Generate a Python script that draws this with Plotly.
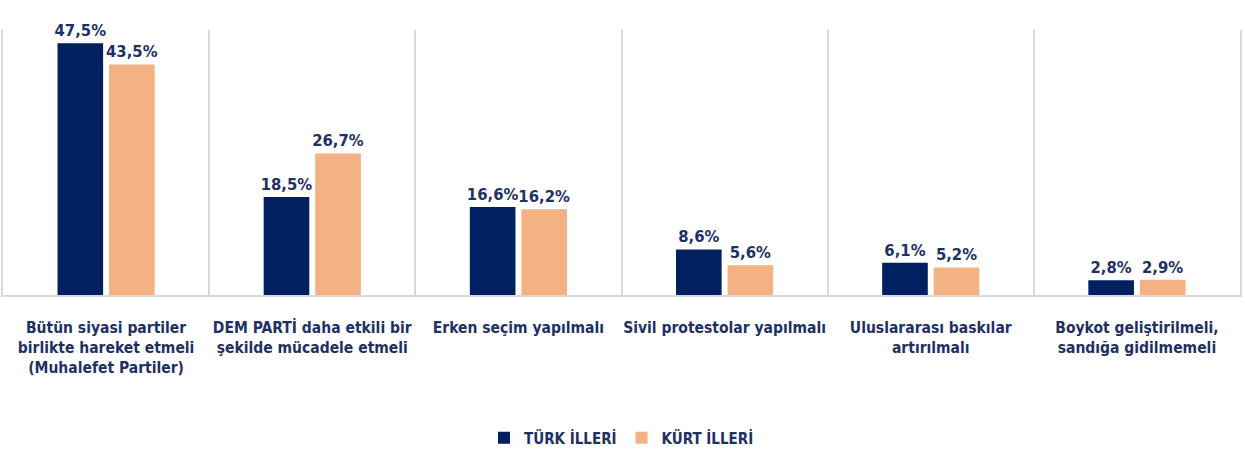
import plotly.graph_objects as go

categories = [
    "Bütün siyasi partiler<br>birlikte hareket etmeli<br>(Muhalefet Partiler)",
    "DEM PARTİ daha etkili bir<br>şekilde mücadele etmeli",
    "Erken seçim yapılmalı",
    "Sivil protestolar yapılmalı",
    "Uluslararası baskılar<br>artırılmalı",
    "Boykot geliştirilmeli,<br>sandığa gidilmemeli",
]
turk = [47.5, 18.5, 16.6, 8.6, 6.1, 2.8]
kurt = [43.5, 26.7, 16.2, 5.6, 5.2, 2.9]
series_names = ["TÜRK İLLERİ", "KÜRT İLLERİ"]

NAVY = "#002060"
PEACH = "#F4B183"
TEXT = "#1F3064"
GRID = "#D9D9D9"
FONT = "DejaVu Sans Condensed, sans-serif"

def fmt(v):
    return f"<b>{v:.1f}%</b>".replace(".", ",")

def bold_lines(s):
    return "<br>".join(f"<b>{p}</b>" for p in s.split("<br>"))

fig = go.Figure()
for name, vals, col in [(series_names[0], turk, NAVY), (series_names[1], kurt, PEACH)]:
    fig.add_trace(go.Bar(
        x=categories, y=vals, name=f"<b>{name}</b>",
        marker=dict(color=col, line=dict(width=0)),
        text=[fmt(v) for v in vals], textposition="outside",
        constraintext="none",
        textfont=dict(family=FONT, size=16.5, color=TEXT),
        cliponaxis=False,
    ))

fig.update_layout(
    width=1245, height=458,
    margin=dict(l=3, r=3, t=30, b=159),
    paper_bgcolor="white", plot_bgcolor="white",
    barmode="group", bargap=0.5, bargroupgap=0.115,
    font=dict(family=FONT, color=TEXT),
    showlegend=True,
    legend=dict(orientation="h", x=0.5, xanchor="center", y=-0.54, yanchor="middle",
                font=dict(family=FONT, size=15, color=TEXT),
                traceorder="normal"),
)
fig.update_xaxes(
    type="category", tickson="boundaries", showgrid=True, gridcolor=GRID, gridwidth=1.5,
    showline=True, linecolor=GRID, linewidth=2, mirror=False,
    ticks="", tickangle=0, automargin=False,
    tickfont=dict(family=FONT, size=15.5, color=TEXT),
    tickvals=categories, ticktext=[bold_lines(c) for c in categories],
    ticklabelstandoff=17,
)
fig.update_yaxes(
    range=[0, 50], showgrid=False, showticklabels=False, zeroline=False,
    showline=True, linecolor=GRID, linewidth=1.5, mirror=True, ticks="",
)

fig.write_html("out.html", config={"displayModeBar": False},
               post_script="document.body.style.margin='0px';")
